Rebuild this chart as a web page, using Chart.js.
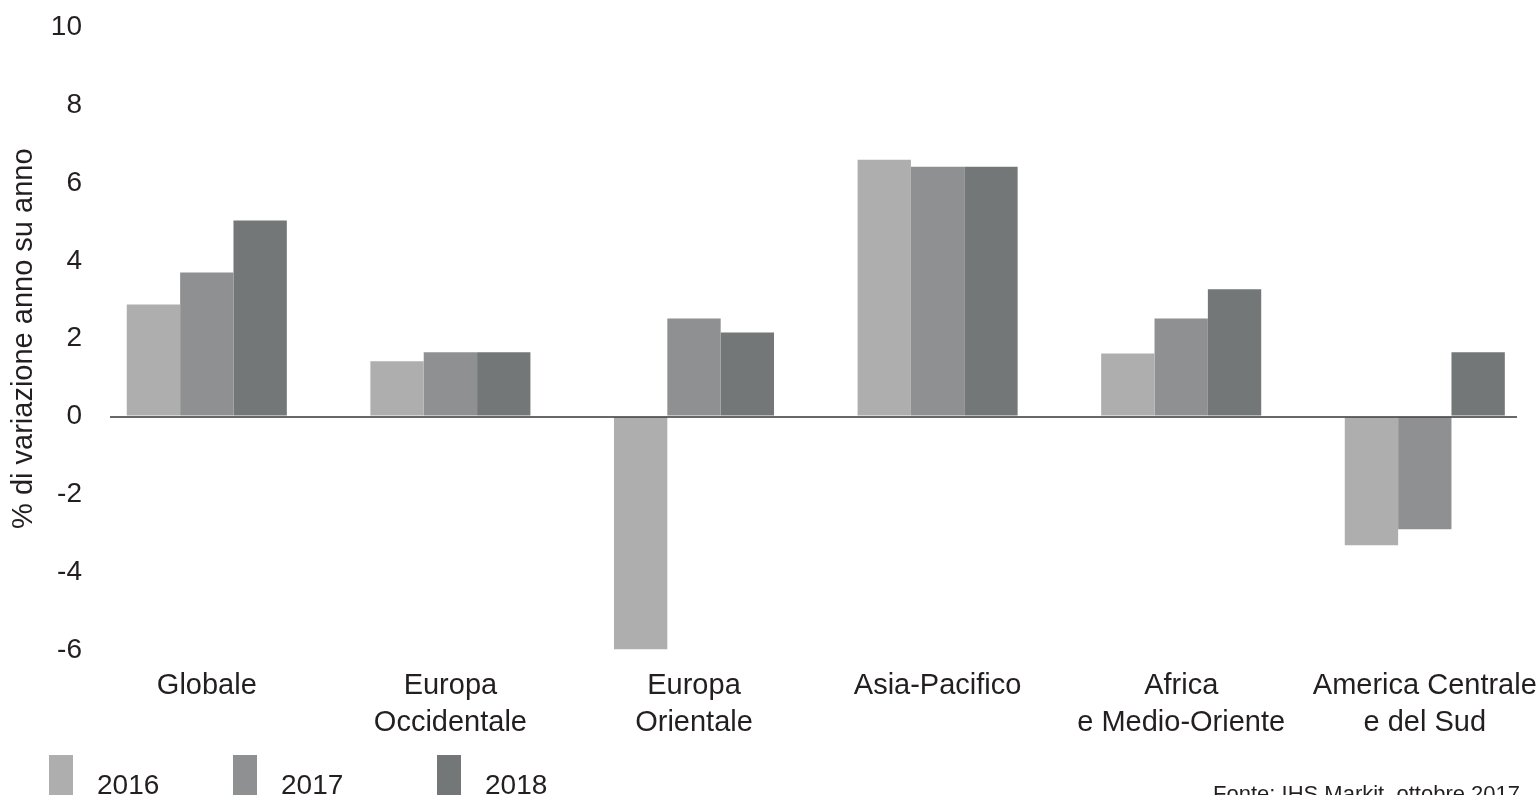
<!DOCTYPE html>
<html>
<head>
<meta charset="utf-8">
<script src="https://cdn.jsdelivr.net/npm/chart.js@4.4.1/dist/chart.umd.min.js"></script>
<style>
  html, body { margin: 0; padding: 0; background: #ffffff; }
  #wrap { width: 1536px; height: 795px; position: relative; }
</style>
</head>
<body>
<div id="wrap"><canvas id="c"></canvas></div>
<script>
// ---- data ----
const categories = ['Globale', 'Europa Occidentale', 'Europa Orientale', 'Asia-Pacifico', 'Africa e Medio-Oriente', 'America Centrale e del Sud'];
const tickLabels = [['Globale'], ['Europa', 'Occidentale'], ['Europa', 'Orientale'], ['Asia-Pacifico'], ['Africa', 'e Medio-Oriente'], ['America Centrale', 'e del Sud']];
const seriesNames = ['2016', '2017', '2018'];
const values2016 = [2.88, 1.42, -5.98, 6.6, 1.62, -3.31];
const values2017 = [3.7, 1.65, 2.52, 6.42, 2.52, -2.9];
const values2018 = [5.04, 1.65, 2.16, 6.42, 3.27, 1.65];
const yTicks = [-6, -4, -2, 0, 2, 4, 6, 8, 10];
const yTitle = '% di variazione anno su anno';
const sourceNote = 'Fonte: IHS Markit, ottobre 2017';

// ---- styles ----
const FONT = '"Liberation Sans", Arial, Helvetica, sans-serif';
const TEXT = '#231f20';
const colors = ['#aeaeae', '#8f9091', '#737777'];

Chart.defaults.font.family = FONT;
Chart.defaults.color = TEXT;

const seriesValues = [values2016, values2017, values2018];

const extrasPlugin = {
  id: 'extras',
  afterDraw(chart) {
    const ctx = chart.ctx;
    ctx.save();
    const legendX = [49, 233, 437];
    chart.data.datasets.forEach((ds, i) => {
      const x = legendX[i];
      ctx.fillStyle = ds.backgroundColor;
      ctx.fillRect(x, 755, 24, 40);
      ctx.fillStyle = TEXT;
      ctx.font = '28px ' + FONT;
      ctx.textAlign = 'left';
      ctx.textBaseline = 'alphabetic';
      ctx.fillText(ds.label, x + 48, 794);
    });
    ctx.font = '22px ' + FONT;
    ctx.textAlign = 'right';
    ctx.fillStyle = TEXT;
    ctx.fillText(sourceNote, 1520, 801);
    ctx.restore();
  }
};

new Chart(document.getElementById('c'), {
  type: 'bar',
  data: {
    labels: categories.map((_, i) => i),
    datasets: seriesNames.map((name, i) => ({
      label: name,
      data: seriesValues[i],
      backgroundColor: colors[i],
      borderWidth: 0,
      categoryPercentage: 0.657,
      barPercentage: 1.0
    }))
  },
  options: {
    responsive: true,
    maintainAspectRatio: false,
    animation: false,
    layout: { padding: { top: 27.5, right: 19, bottom: 36, left: 0 } },
    plugins: {
      legend: { display: false },
      tooltip: { enabled: false },
      title: { display: false }
    },
    scales: {
      x: {
        type: 'linear',
        offset: false,
        min: -0.3974,
        max: 5.3785,
        grid: { display: false, drawTicks: false, offset: false },
        border: { display: false },
        afterBuildTicks(scale) { scale.ticks = categories.map((_, i) => ({ value: i })); },
        afterFit(scale) { scale.paddingLeft = 0; scale.paddingRight = 0; },
        ticks: {
          autoSkip: false,
          maxRotation: 0,
          minRotation: 0,
          padding: 18,
          color: TEXT,
          font: { size: 29, lineHeight: 1.26 },
          callback: (v) => tickLabels[v]
        }
      },
      y: {
        min: -6,
        max: 10,
        afterBuildTicks(scale) { scale.ticks = yTicks.map(v => ({ value: v })); },
        afterFit(scale) { scale.width = 110; scale.paddingTop = 0; scale.paddingBottom = 0; },
        border: { display: false },
        grid: {
          drawTicks: false,
          z: 1,
          lineWidth: (c) => (c.tick && c.tick.value === 0 ? 2 : 0),
          color: (c) => (c.tick && c.tick.value === 0 ? 'rgba(35,31,32,0.68)' : 'rgba(0,0,0,0)')
        },
        ticks: {
          padding: 28,
          color: TEXT,
          font: { size: 28 },
          callback: (v) => String(v)
        },
        title: {
          display: true,
          text: yTitle,
          color: TEXT,
          font: { size: 29, lineHeight: 1.2 },
          padding: { top: 7, bottom: 0 }
        }
      }
    }
  },
  plugins: [extrasPlugin]
});
</script>
</body>
</html>
